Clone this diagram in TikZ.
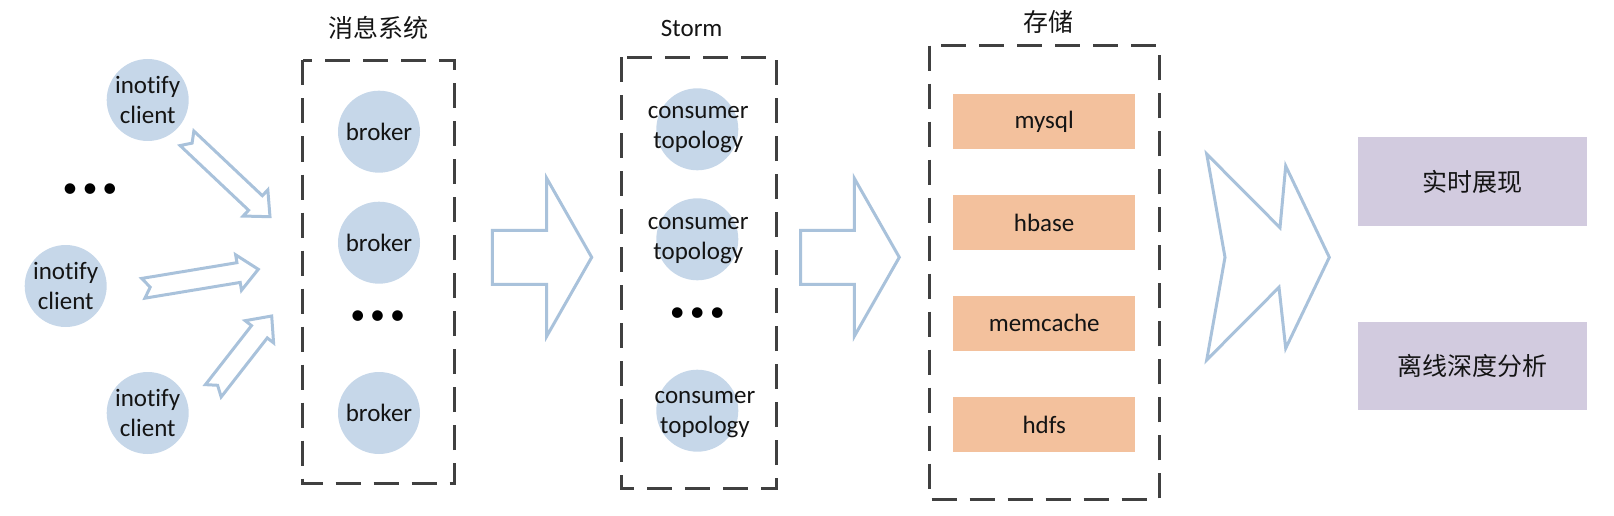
\documentclass[tikz,border=0pt]{standalone}
\usepackage{fontspec}
\setmainfont{Carlito}[Ligatures=NoCommon]
\newfontfamily\cjk{Noto Sans CJK SC}
\usetikzlibrary{calc}

\definecolor{circblue}{HTML}{C6D7E9}
\definecolor{arrowblue}{HTML}{A9C2DB}
\definecolor{storeorange}{HTML}{F3C19D}
\definecolor{showpurple}{HTML}{D2CBDF}
\definecolor{boxgray}{HTML}{404040}

\tikzset{
  x=1pt, y=-1pt,
  txt/.style={align=center, font=\fontsize{25}{30}\selectfont, text=black!92},
  circ/.style={circle, fill=circblue, minimum size=82pt, inner sep=0pt},
  groupbox/.style={draw=boxgray, line width=3pt, dash pattern=on 25pt off 13pt},
  title/.style={txt},
  store/.style={txt, fill=storeorange, minimum width=182pt, minimum height=55pt, inner sep=0pt},
  show/.style={txt, fill=showpurple, minimum width=229pt, minimum height=88pt, inner sep=0pt},
  arrowline/.style={draw=arrowblue, line width=3pt},
  more/.style={font=\fontsize{30}{30}\selectfont}
}

% hollow block arrow: tail, tip, half shaft, half head, head length, notch
\newcommand\blockarrow[6]{%
  \draw[arrowline] ($(#1)!#3!90:(#2)$) -- ($(#2)!#5!(#1)!#3!-90:(#1)$)
    -- ($(#2)!#5!(#1)!#4!-90:(#1)$) -- (#2) -- ($(#2)!#5!(#1)!#4!90:(#1)$)
    -- ($(#2)!#5!(#1)!#3!90:(#1)$) -- ($(#1)!#3!-90:(#2)$) -- ($(#1)!#6!(#2)$) -- cycle;
}

\begin{document}
\begin{tikzpicture}
  \useasboundingbox (0,0) rectangle (1614,516);

  % clients
  \node[circ, label={[txt]center:inotify\\client}] (cl1) at (147.7,100) {};
  \node[circ, label={[txt]center:inotify\\client}] (cl2) at (65.7,286) {};
  \node[circ, label={[txt]center:inotify\\client}] (cl3) at (147.7,413) {};
  \node[more] (cldots) at (90,191) {\textbullet\,\textbullet\,\textbullet};

  % message system
  \node[title] (msgtitle) at (378.3,28.3) {\cjk 消息系统};
  \draw[groupbox] (302.5,60.5) rectangle (454,483.5);
  \node[circ, label={[txt]center:broker}] (br1) at (379,131.7) {};
  \node[circ, label={[txt]center:broker}] (br2) at (379,242.7) {};
  \node[more] (brdots) at (377.7,318) {\textbullet\,\textbullet\,\textbullet};
  \node[circ, label={[txt]center:broker}] (br3) at (379,413) {};

  % storm
  \node[title] (stormtitle) at (691.7,28.3) {Storm};
  \draw[groupbox] (621.7,57.3) rectangle (776,488);
  \node[circ] (tp1) at (697.3,129.3) {};
  \node[txt] at (698.3,130) {consumer\\topology};
  \node[circ] (tp2) at (697.3,239.3) {};
  \node[txt] at (698.3,240.5) {consumer\\topology};
  \node[more] (tpdots) at (697.3,314.7) {\textbullet\,\textbullet\,\textbullet};
  \node[circ] (tp3) at (697.3,410.7) {};
  \node[txt] at (705,415) {consumer\\topology};

  % storage
  \node[title] (storetitle) at (1048.3,21.7) {\cjk 存储};
  \draw[groupbox] (929,45.7) rectangle (1159,499);
  \node[store] (mysql) at (1044.2,121.7) {mysql};
  \node[store] (hbase) at (1044.2,222.5) {hbase};
  \node[store] (memcache) at (1044.2,323.3) {memcache};
  \node[store] (hdfs) at (1044.2,424.8) {hdfs};

  % output
  \node[show] (realtime) at (1472.8,181.5) {\cjk 实时展现};
  \node[show] (offline) at (1472.8,366) {\cjk 离线深度分析};

  % arrows
  \coordinate (a1s) at (187,138.3);   \coordinate (a1e) at (270,216.7);
  \coordinate (a2s) at (143.3,288.3); \coordinate (a2e) at (258.3,269.3);
  \coordinate (a3s) at (213.3,390.8); \coordinate (a3e) at (271.7,316);
  \coordinate (b1s) at (492.3,257.3); \coordinate (b1e) at (591.7,257.3);
  \coordinate (b2s) at (800.7,257.3); \coordinate (b2e) at (899.3,257.3);
  \blockarrow{a1s}{a1e}{10pt}{18pt}{20pt}{7pt}
  \blockarrow{a2s}{a2e}{10pt}{18pt}{20pt}{7pt}
  \blockarrow{a3s}{a3e}{10pt}{18pt}{20pt}{7pt}
  \blockarrow{b1s}{b1e}{27pt}{79pt}{45pt}{0pt}
  \blockarrow{b2s}{b2e}{27pt}{79pt}{45pt}{0pt}
  \draw[arrowline] (1206.7,154) -- (1280,227.7) -- (1285.7,166) -- (1329.3,257.3)
    -- (1285.7,348.3) -- (1279,287.3) -- (1206.7,360) -- (1225,257.3) -- cycle;
\end{tikzpicture}
\end{document}
